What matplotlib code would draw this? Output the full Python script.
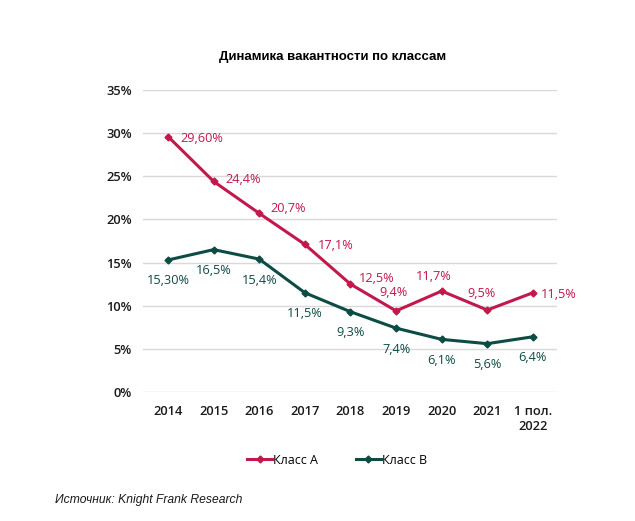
import numpy as np
import matplotlib
matplotlib.use("Agg")
from matplotlib import pyplot as plt

years = ["2014", "2015", "2016", "2017", "2018", "2019", "2020", "2021", "1 пол.\n2022"]
class_a = [29.6, 24.4, 20.7, 17.1, 12.5, 9.4, 11.7, 9.5, 11.5]
class_b = [15.3, 16.5, 15.4, 11.5, 9.3, 7.4, 6.1, 5.6, 6.4]
labels_a = ["29,60%", "24,4%", "20,7%", "17,1%", "12,5%", "9,4%", "11,7%", "9,5%", "11,5%"]
labels_b = ["15,30%", "16,5%", "15,4%", "11,5%", "9,3%", "7,4%", "6,1%", "5,6%", "6,4%"]

red = "#C2184B"
green = "#0D4C44"
lab_font = "Open Sans"

# label placement (pixel offsets from the point, horizontal alignment)
off_a = [(12, -2, "left"), (12, 2, "left"), (11, 5, "left"), (13, -1, "left"),
         (8, 6, "left"), (-3, 18, "center"), (-8, 15, "center"), (-6, 17, "center"),
         (8, -2, "left")]

fig = plt.figure(figsize=(6.35, 5.21), dpi=100)
ax = fig.add_axes([0.2252, 0.2476, 0.652, 0.5797])

x = np.arange(len(years))
ax.plot(x, class_a, color=red, lw=2.2, marker="D", ms=3.5, label="Класс А", zorder=3)
ax.plot(x, class_b, color=green, lw=2.2, marker="D", ms=3.5, label="Класс В", zorder=3)

for i, (v, t) in enumerate(zip(class_a, labels_a)):
    dx, dy, ha = off_a[i]
    ax.annotate(t, (x[i], v), xytext=(dx, dy), textcoords="offset pixels",
                ha=ha, va="center", color=red, fontsize=9.2, family=lab_font)
for i, (v, t) in enumerate(zip(class_b, labels_b)):
    ax.annotate(t, (x[i], v), xytext=(0, -21), textcoords="offset pixels",
                ha="center", va="center", color=green, fontsize=9.2, family=lab_font)

ax.set_xlim(-0.55, 8.53)
ax.set_ylim(0, 35)
ax.set_yticks(np.arange(0, 36, 5))
ax.set_yticklabels(["%d%%" % v for v in range(0, 36, 5)])
ax.set_xticks(x)
ax.set_xticklabels(years)
ax.grid(axis="y", color="#D9D9D9", lw=1)
ax.set_axisbelow(True)
for s in ax.spines.values():
    s.set_visible(False)
ax.tick_params(axis="both", length=0, labelsize=9.3, labelcolor="#1a1a1a")
ax.tick_params(axis="x", pad=9)
ax.tick_params(axis="y", pad=8)
for lbl in ax.get_xticklabels() + ax.get_yticklabels():
    lbl.set_family(lab_font)
    lbl.set_fontweight("semibold")

fig.text(0.523, 0.89, "Динамика вакантности по классам", ha="center", va="center",
         fontsize=9.5, fontweight="bold", family="Liberation Sans")

leg = fig.legend(loc="center", bbox_to_anchor=(0.531, 0.117), ncol=2, frameon=False,
                 prop={"family": lab_font, "size": 9}, handlelength=2.0,
                 handletextpad=0.1, columnspacing=3.0)

fig.text(0.087, 0.04, "Источник: Knight Frank Research", ha="left", va="center",
         fontsize=8.7, style="italic", family="Liberation Sans", color="#1a1a1a")

plt.savefig("out.png", dpi=100)
